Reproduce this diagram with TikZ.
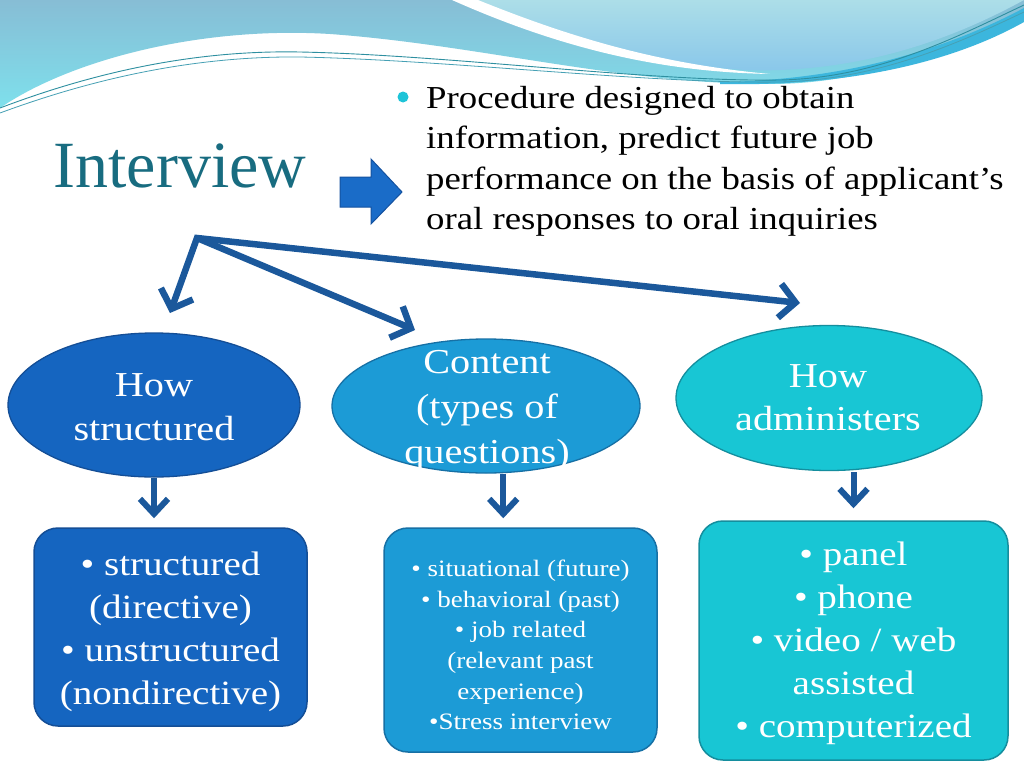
\documentclass[tikz,border=0pt]{standalone}
\usepackage{fontspec}
\setmainfont[FakeStretch=1.15]{Liberation Serif}
\newfontfamily\titlefont{Liberation Serif}
\usetikzlibrary{arrows.meta,shapes.geometric,calc}
\definecolor{cA}{RGB}{21,101,192}
\definecolor{bA}{RGB}{20,78,150}
\definecolor{cB}{RGB}{28,155,214}
\definecolor{bB}{RGB}{22,112,165}
\definecolor{cC}{RGB}{24,198,212}
\definecolor{bC}{RGB}{20,142,158}
\definecolor{arrowc}{RGB}{27,88,155}
\definecolor{titlec}{RGB}{24,108,128}
\definecolor{bulletc}{RGB}{30,196,216}
\definecolor{blockc}{RGB}{26,108,200}
\definecolor{blockb}{RGB}{20,82,160}
\definecolor{waveTop}{RGB}{135,189,213}
\definecolor{waveBot}{RGB}{126,224,236}
\definecolor{lightTop}{RGB}{172,222,232}
\definecolor{lightBot}{RGB}{136,198,234}
\definecolor{bandc}{RGB}{60,182,221}
\definecolor{thinA}{RGB}{46,143,160}
\definecolor{thinB}{RGB}{70,160,180}
\begin{document}
\begin{tikzpicture}[x=1pt,y=-1pt,
  ellbase/.style={ellipse, line width=1.3pt, inner sep=0pt},
  ellA/.style={ellbase, fill=cA, draw=bA},
  ellB/.style={ellbase, fill=cB, draw=bB},
  ellC/.style={ellbase, fill=cC, draw=bC},
  etext/.style={text=white, align=center, inner sep=0pt, font=\fontsize{35}{44}\selectfont},
  boxbase/.style={rectangle, rounded corners=24pt, line width=1.5pt, inner sep=0pt, text=white, align=center},
  boxA/.style={boxbase, fill=cA, draw=bA, font=\fontsize{34}{43}\selectfont},
  boxB/.style={boxbase, fill=cB, draw=bB, font=\fontsize{23.5}{30.6}\selectfont},
  boxC/.style={boxbase, fill=cC, draw=bC, font=\fontsize{34}{43}\selectfont},
  btip/.tip={Straight Barb[length=16pt,width=34pt]},
  branch/.style={draw=arrowc, line width=6.5pt, line join=miter},
  darr/.style={draw=arrowc, line width=6pt, -{Straight Barb[length=15pt,width=28pt]}}
]
\useasboundingbox (0,0) rectangle (1024,768);
\fill[white] (0,0) rectangle (1024,768);
% top wave background
\shade[top color=waveTop, bottom color=waveBot]
  (0,0) -- (1024,0) -- (1024,12) .. controls (940,55) and (860,84) .. (770,84)
  .. controls (620,84) and (480,45) .. (330,34) .. controls (200,26) and (70,60) .. (0,108) -- cycle;
\shade[top color=lightTop, bottom color=lightBot]
  (476,0) .. controls (570,40) and (680,74) .. (780,70) .. controls (880,66) and (960,35) .. (1024,0) -- cycle;
\fill[white]
  (452,0) .. controls (560,48) and (660,72) .. (770,74) .. controls (660,64) and (572,38) .. (478,0) -- cycle;
\fill[bandc]
  (720,82) .. controls (860,80) and (960,42) .. (1024,8) -- (1024,22) .. controls (960,58) and (860,87) .. (720,84) -- cycle;
\draw[thinA, line width=0.9pt]
  (0,108) .. controls (100,70) and (200,50) .. (300,52) .. controls (450,55) and (650,82) .. (780,80) .. controls (880,78) and (960,35) .. (1024,5);
\draw[thinB, line width=0.8pt]
  (0,113) .. controls (100,76) and (200,56) .. (300,57) .. controls (450,60) and (650,84) .. (780,82) .. controls (880,80) and (965,40) .. (1024,12);
% title
\node[text=titlec, inner sep=0pt, font=\titlefont\fontsize{66}{66}\selectfont] (title) at (180,166) {Interview};
% block arrow
\filldraw[fill=blockc, draw=blockb, line width=1pt]
  (340,177) -- (371,177) -- (371,159) -- (402,192) -- (371,224) -- (371,207) -- (340,207) -- cycle;
% description
\node[circle, fill=bulletc, minimum size=11pt, inner sep=0pt] (bul) at (403,97) {};
\node[anchor=north west, inner sep=0pt, align=left, font=\fontsize{32}{40.5}\selectfont] (desc) at (426,86)
  {Procedure designed to obtain\\information, predict future job\\performance on the basis of applicant’s\\oral responses to oral inquiries};
% ellipses
\node[ellA, minimum width=292pt, minimum height=144pt] (e1) at (154,405) {};
\node[etext] (e1t) at (154,407) {How\\structured};
\node[ellB, minimum width=308pt, minimum height=134pt] (e2) at (486,406) {};
\node[etext, font=\fontsize{35}{45}\selectfont] (e2t) at (487,411) {Content\\(types of\\questions)};
\node[ellC, minimum width=306pt, minimum height=145pt] (e3) at (829,398) {};
\node[etext, font=\fontsize{35}{43}\selectfont] (e3t) at (828,398) {How\\administers};
% branching arrows
\coordinate (hub) at (197,238);
\coordinate (t1) at (170,313);
\coordinate (t2) at (415,330);
\coordinate (t3) at (800,303);
\draw[branch, btip-btip] (t1) -- (hub) -- (t3);
\draw[branch, -btip] (hub) -- (t2);
% boxes
\node[boxA, minimum width=273pt, minimum height=198pt] (b1) at (170.5,627) {};
\node[text=white, align=center, inner sep=0pt, font=\fontsize{34}{43}\selectfont] (b1t) at (170.5,632)
  {• structured\\(directive)\\• unstructured\\(nondirective)};
\node[boxB, minimum width=273pt, minimum height=224pt] (b2) at (520.5,640) {};
\node[text=white, align=center, inner sep=0pt, font=\fontsize{23.5}{30.6}\selectfont] (b2t) at (520.5,645)
  {• situational (future)\\• behavioral (past)\\• job related\\(relevant past\\experience)\\•Stress interview};
\node[boxC, minimum width=309pt, minimum height=239pt] (b3) at (853.5,640.5) {};
\node[text=white, align=center, inner sep=0pt, font=\fontsize{34}{43}\selectfont] (b3t) at (853.5,643.5)
  {• panel\\• phone\\• video / web\\assisted\\• computerized};
% down arrows
\draw[darr, shorten >=9pt] (e1.south) -- (e1.south |- b1.north);
\coordinate (m2) at ($(e2.south)!0.5!(b2.north)$);
\draw[darr, shorten >=9pt] (m2 |- e2.south) -- (m2 |- b2.north);
\draw[darr, shorten >=12pt, shorten <=1pt] (b3.north |- e3.south) -- (b3.north);
\end{tikzpicture}
\end{document}
